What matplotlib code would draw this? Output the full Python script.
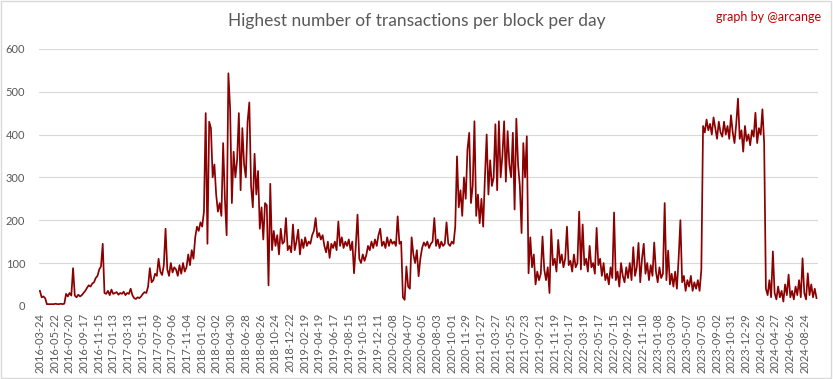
import matplotlib
matplotlib.use("Agg")
from matplotlib import pyplot as plt
from matplotlib.patches import Rectangle
import numpy as np

# weekly readings (every 7th day from 2016-03-24), one row ~ one quarter
tx_max = [
    35, 20, 22, 18, 4, 4, 4, 4, 4, 5, 4, 4, 5,
    4, 5, 28, 22, 30, 24, 88, 24, 20, 26, 22, 25, 30,
    35, 42, 48, 45, 52, 55, 65, 70, 85, 92, 145, 30, 28,
    35, 25, 38, 28, 30, 32, 26, 30, 28, 33, 25, 30, 28,
    40, 25, 18, 16, 20, 18, 22, 28, 32, 30, 45, 88, 55,
    60, 75, 70, 110, 80, 72, 95, 180, 85, 70, 100, 78, 90,
    85, 70, 95, 75, 100, 80, 90, 120, 95, 130, 110, 160, 185,
    175, 195, 185, 220, 450, 145, 430, 415, 300, 330, 260, 220, 240,
    210, 380, 250, 165, 543, 460, 240, 360, 300, 340, 450, 270, 415,
    330, 300, 430, 475, 280, 230, 355, 260, 315, 180, 230, 155, 240,
    235, 48, 285, 130, 175, 140, 165, 120, 180, 145, 150, 205, 130,
    140, 125, 190, 130, 150, 178, 120, 155, 135, 160, 140, 150, 145,
    165, 175, 205, 160, 170, 155, 165, 140, 125, 150, 112, 145, 135,
    150, 130, 197, 140, 160, 135, 150, 140, 155, 130, 150, 76, 140,
    213, 110, 100, 120, 105, 118, 140, 130, 150, 135, 155, 140, 165,
    180, 140, 150, 135, 160, 140, 155, 145, 150, 140, 209, 145, 150,
    20, 14, 92, 45, 40, 160, 120, 100, 130, 69, 110, 135, 148,
    140, 150, 135, 145, 150, 205, 140, 155, 135, 150, 140, 145, 195,
    145, 140, 150, 145, 185, 349, 230, 270, 210, 300, 250, 365, 404,
    240, 280, 431, 210, 260, 193, 250, 185, 300, 400, 260, 340, 280,
    300, 424, 270, 431, 300, 350, 431, 290, 408, 330, 300, 404, 225,
    437, 330, 280, 170, 380, 300, 396, 76, 160, 90, 120, 50, 80,
    60, 75, 162, 85, 60, 90, 30, 178, 95, 110, 80, 154, 100,
    120, 90, 110, 185, 95, 105, 80, 120, 90, 100, 220, 85, 190,
    95, 110, 80, 140, 90, 100, 75, 182, 95, 110, 70, 100, 60,
    75, 50, 90, 65, 218, 60, 80, 45, 100, 70, 55, 90, 65,
    100, 60, 137, 70, 90, 147, 55, 110, 145, 75, 100, 60, 95,
    70, 148, 80, 55, 90, 65, 75, 240, 60, 129, 50, 75, 45,
    80, 40, 111, 200, 55, 70, 35, 60, 45, 70, 35, 55, 40,
    60, 35, 84, 420, 405, 435, 410, 425, 400, 440, 415, 390, 430,
    405, 395, 430, 400, 420, 390, 445, 405, 380, 425, 484, 390, 410,
    360, 420, 385, 400, 375, 410, 395, 451, 380, 415, 400, 459, 380,
    40, 25, 60, 20, 127, 30, 15, 45, 20, 35, 10, 50, 25,
    73, 20, 35, 15, 45, 25, 60, 20, 111, 30, 15, 76, 25,
    50, 20, 40, 18,
]

tick_labels = [
    "2016-03-24", "2016-05-22", "2016-07-20", "2016-09-17", "2016-11-15",
    "2017-01-13", "2017-03-13", "2017-05-11", "2017-07-09", "2017-09-06",
    "2017-11-04", "2018-01-02", "2018-03-02", "2018-04-30", "2018-06-28",
    "2018-08-26", "2018-10-24", "2018-12-22", "2019-02-19", "2019-04-19",
    "2019-06-17", "2019-08-15", "2019-10-13", "2019-12-11", "2020-02-08",
    "2020-04-07", "2020-06-05", "2020-08-03", "2020-10-01", "2020-11-29",
    "2021-01-27", "2021-03-27", "2021-05-25", "2021-07-23", "2021-09-21",
    "2021-11-19", "2022-01-17", "2022-03-19", "2022-05-17", "2022-07-15",
    "2022-09-12", "2022-11-10", "2023-01-08", "2023-03-09", "2023-05-07",
    "2023-07-05", "2023-09-02", "2023-10-31", "2023-12-29", "2024-02-26",
    "2024-04-27", "2024-06-26", "2024-08-24",
]

plt.rcParams['font.family'] = ['Lato', 'DejaVu Sans']

fig = plt.figure(figsize=(8.33, 3.79), dpi=100)
ax = fig.add_axes([0.047, 0.193, 0.935, 0.678])

days = np.arange(len(tx_max)) * 7
ax.plot(days, tx_max, color="#8B0000", linewidth=1.25)

ax.set_ylim(0, 600)
ax.set_xlim(-3, 3121)
ax.set_yticks(range(0, 601, 100))
ax.set_xticks(np.arange(len(tick_labels)) * 59)
ax.set_xticklabels(tick_labels, rotation=90)
ax.tick_params(axis='both', length=0, labelsize=8, colors="#595959")
ax.tick_params(axis='y', pad=10)
ax.tick_params(axis='x', pad=5)
ax.grid(axis='y', color="#D9D9D9", linewidth=0.8)
ax.set_axisbelow(True)
for s in ax.spines.values():
    s.set_visible(False)

fig.text(0.5, 0.945, "Highest number of transactions per block per day",
         ha='center', va='center', fontsize=12.5, color="#595959")
fig.text(0.986, 0.955, "graph by @arcange", ha='right', va='center',
         fontsize=9, color="#C00000")

fig.patches.append(Rectangle((0.001, 0.002), 0.997, 0.995, transform=fig.transFigure,
                             fill=False, edgecolor="#D9D9D9", linewidth=1))

fig.savefig("out.png", dpi=100, facecolor="white")
